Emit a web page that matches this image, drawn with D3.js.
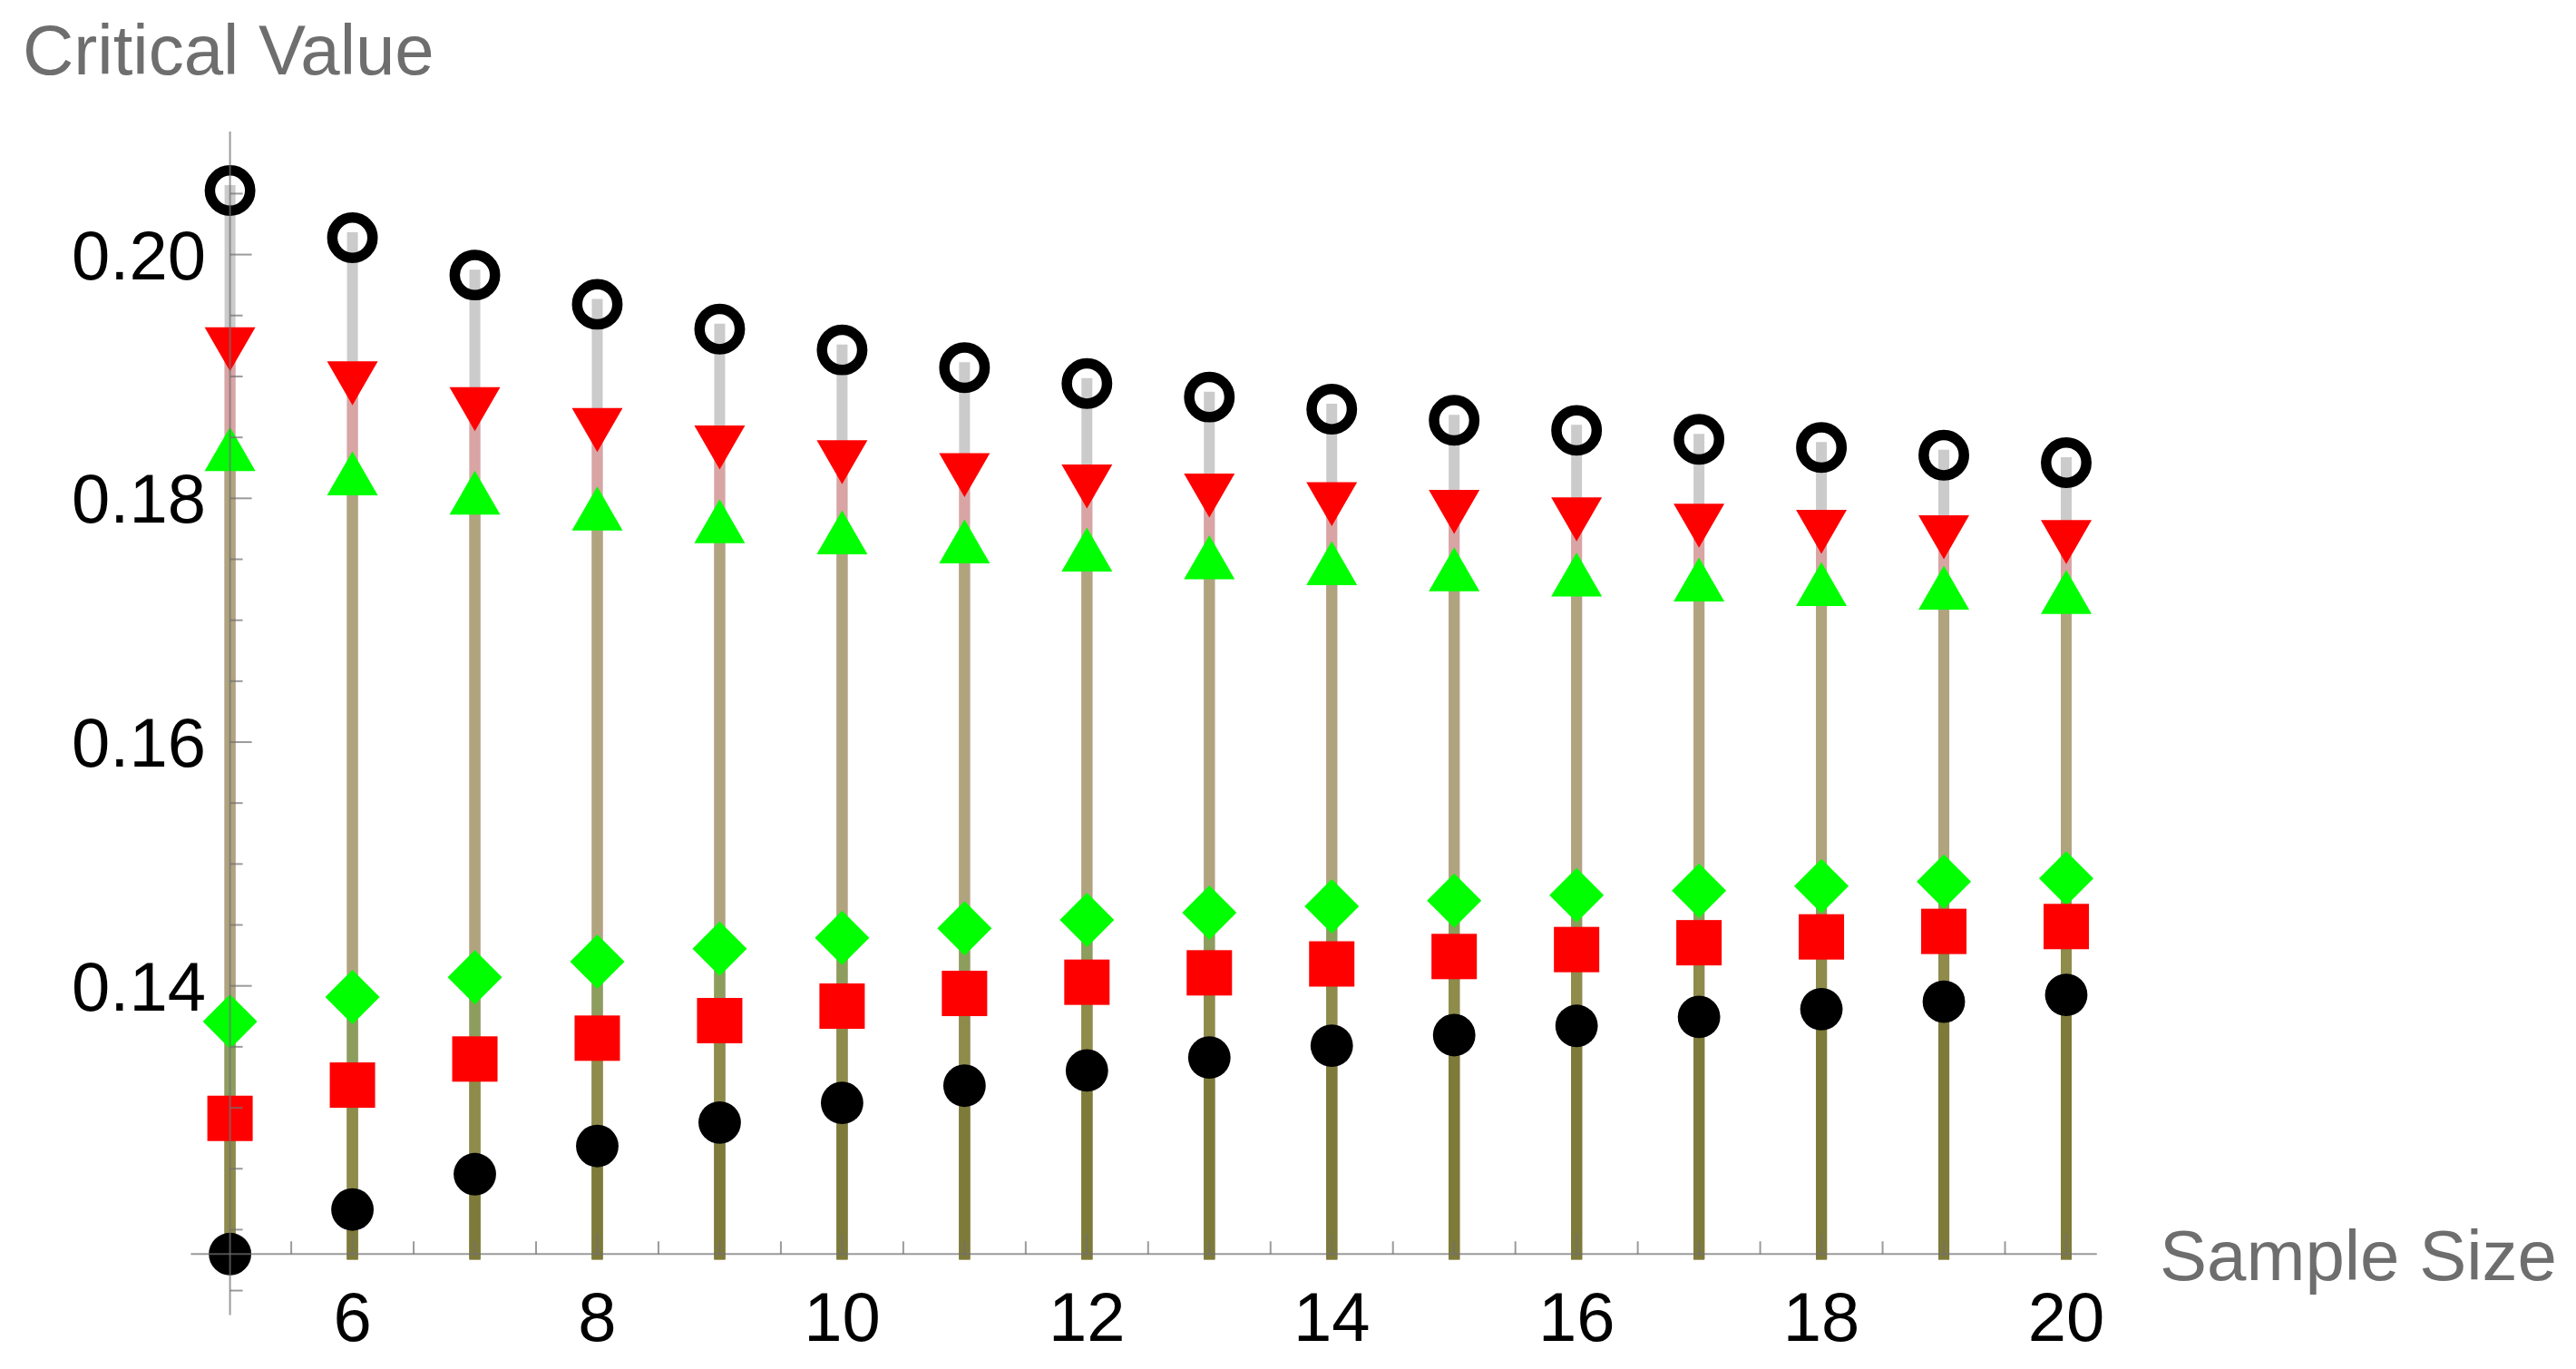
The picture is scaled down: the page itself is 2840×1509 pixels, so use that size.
<!DOCTYPE html>
<html>
<head>
<meta charset="utf-8">
<script src="https://cdn.jsdelivr.net/npm/d3@7"></script>
<style>
  html, body { margin: 0; padding: 0; background: #ffffff; }
  svg { display: block; }
  text { font-family: "Liberation Sans", Arial, sans-serif; }
</style>
</head>
<body>
<svg id="chart" width="2840" height="1509"></svg>
<script>
// ---------- data ----------
const sampleSizes = [5, 6, 7, 8, 9, 10, 11, 12, 13, 14, 15, 16, 17, 18, 19, 20];
const openCircle   = [0.20525, 0.20138, 0.19832, 0.19592, 0.19389, 0.19218, 0.19072, 0.18942, 0.18831, 0.18732, 0.18640, 0.18558, 0.18484, 0.18417, 0.18354, 0.18293];
const redDown      = [0.19223, 0.18944, 0.18732, 0.18560, 0.18417, 0.18296, 0.18190, 0.18098, 0.18023, 0.17952, 0.17889, 0.17827, 0.17775, 0.17725, 0.17681, 0.17641];
const greenUp      = [0.18405, 0.18205, 0.18047, 0.17917, 0.17812, 0.17722, 0.17646, 0.17579, 0.17517, 0.17468, 0.17418, 0.17375, 0.17334, 0.17297, 0.17267, 0.17232];
const greenDiamond = [0.13707, 0.13908, 0.14070, 0.14199, 0.14305, 0.14394, 0.14472, 0.14541, 0.14601, 0.14653, 0.14700, 0.14744, 0.14782, 0.14819, 0.14856, 0.14881];
const redSquare    = [0.12913, 0.13186, 0.13400, 0.13571, 0.13715, 0.13834, 0.13938, 0.14030, 0.14107, 0.14180, 0.14241, 0.14298, 0.14354, 0.14402, 0.14447, 0.14487];
const blackDot     = [0.11800, 0.12165, 0.12455, 0.12686, 0.12879, 0.13040, 0.13181, 0.13306, 0.13412, 0.13509, 0.13596, 0.13672, 0.13745, 0.13809, 0.13871, 0.13926];

const xTickValues = [6, 8, 10, 12, 14, 16, 18, 20];
const yTickValues = [0.14, 0.16, 0.18, 0.20];
const xAxisTitle = "Sample Size";
const yAxisTitle = "Critical Value";

// series: stems drawn from tallest to shortest so the overlap colours match
const series = [
  { name: "openCircle",   values: openCircle,   marker: "ring",     color: "#000000", stem: "#cbcbcb" },
  { name: "redDown",      values: redDown,      marker: "triDown",  color: "#ff0000", stem: "#d9a4a4" },
  { name: "greenUp",      values: greenUp,      marker: "triUp",    color: "#00ff00", stem: "#b0a47f" },
  { name: "greenDiamond", values: greenDiamond, marker: "diamond",  color: "#00ff00", stem: "#8d9d5e" },
  { name: "redSquare",    values: redSquare,    marker: "square",   color: "#ff0000", stem: "#8e8b4b" },
  { name: "blackDot",     values: blackDot,     marker: "dot",      color: "#000000", stem: "#7e7a3a" }
];

// ---------- scales ----------
const originX = 5, originY = 0.118;
const x = d3.scaleLinear().domain([5, 20]).range([253.6, 2278]);
const y = d3.scaleLinear().domain([0.14, 0.20]).range([1086.7, 280.6]);
const xExtent = [4.68, 20.25];
const yExtent = [0.113, 0.2101];

const svg = d3.select("#chart");

// ---------- stems ----------
const gStems = svg.append("g");
series.forEach(s => {
  gStems.selectAll(null)
    .data(sampleSizes.map((n, i) => ({ n, v: s.values[i] })))
    .enter().append("line")
    .attr("x1", d => x(d.n)).attr("x2", d => x(d.n))
    .attr("y1", y(originY)).attr("y2", d => y(d.v))
    .attr("stroke", s.stem)
    .attr("stroke-width", 12)
    .attr("stroke-linecap", "square");
});

// ---------- markers ----------
const gMarks = svg.append("g");
const triW = 56, triH = 48.5, dia = 30, sq = 50;
series.forEach(s => {
  const pts = sampleSizes.map((n, i) => ({ n, v: s.values[i] }));
  const sel = gMarks.selectAll(null).data(pts).enter();
  if (s.marker === "ring") {
    sel.append("circle").attr("cx", d => x(d.n)).attr("cy", d => y(d.v))
      .attr("r", 22.2).attr("fill", "none").attr("stroke", s.color).attr("stroke-width", 11.5);
  } else if (s.marker === "dot") {
    sel.append("circle").attr("cx", d => x(d.n)).attr("cy", d => y(d.v))
      .attr("r", 23.4).attr("fill", s.color);
  } else if (s.marker === "square") {
    sel.append("rect").attr("x", d => x(d.n) - sq / 2).attr("y", d => y(d.v) - sq / 2)
      .attr("width", sq).attr("height", sq).attr("fill", s.color);
  } else if (s.marker === "diamond") {
    sel.append("path").attr("d", d => {
      const cx = x(d.n), cy = y(d.v);
      return `M${cx},${cy - dia}L${cx + dia},${cy}L${cx},${cy + dia}L${cx - dia},${cy}Z`;
    }).attr("fill", s.color);
  } else if (s.marker === "triDown") {
    sel.append("path").attr("d", d => {
      const cx = x(d.n), cy = y(d.v);
      return `M${cx - triW / 2},${cy - triH / 2}L${cx + triW / 2},${cy - triH / 2}L${cx},${cy + triH / 2}Z`;
    }).attr("fill", s.color);
  } else if (s.marker === "triUp") {
    sel.append("path").attr("d", d => {
      const cx = x(d.n), cy = y(d.v);
      return `M${cx - triW / 2},${cy + triH / 2}L${cx + triW / 2},${cy + triH / 2}L${cx},${cy - triH / 2}Z`;
    }).attr("fill", s.color);
  }
});

// ---------- axes (drawn on top, like the reference) ----------
const axisColor = "#707070";
const gAxes = svg.append("g").attr("stroke", axisColor).attr("stroke-opacity", 0.7).attr("stroke-width", 2);

gAxes.append("line")
  .attr("x1", x(xExtent[0])).attr("x2", x(xExtent[1]))
  .attr("y1", y(originY)).attr("y2", y(originY));
gAxes.append("line")
  .attr("x1", x(originX)).attr("x2", x(originX))
  .attr("y1", y(yExtent[0])).attr("y2", y(yExtent[1]));

const xMinor = d3.range(5, 20.01, 0.5).filter(v => !xTickValues.includes(v) && v !== originX);
gAxes.selectAll(null).data(xMinor).enter().append("line")
  .attr("x1", d => x(d)).attr("x2", d => x(d))
  .attr("y1", y(originY)).attr("y2", y(originY) - 14);
gAxes.selectAll(null).data(xTickValues).enter().append("line")
  .attr("x1", d => x(d)).attr("x2", d => x(d))
  .attr("y1", y(originY)).attr("y2", y(originY) - 22);

const yMinor = d3.range(0.115, 0.2076, 0.005).map(v => +v.toFixed(3))
  .filter(v => !yTickValues.some(t => Math.abs(t - v) < 1e-9) && Math.abs(v - originY) > 1e-9);
gAxes.selectAll(null).data(yMinor).enter().append("line")
  .attr("x1", x(originX)).attr("x2", x(originX) + 14)
  .attr("y1", d => y(d)).attr("y2", d => y(d));
gAxes.selectAll(null).data(yTickValues).enter().append("line")
  .attr("x1", x(originX)).attr("x2", x(originX) + 24)
  .attr("y1", d => y(d)).attr("y2", d => y(d));

// tick labels
const gLabels = svg.append("g").attr("fill", "#000").attr("font-size", 76);
gLabels.selectAll(null).data(xTickValues).enter().append("text")
  .attr("x", d => x(d)).attr("y", 1478)
  .attr("text-anchor", "middle")
  .text(d => d3.format("d")(d));
gLabels.selectAll(null).data(yTickValues).enter().append("text")
  .attr("x", 227).attr("y", d => y(d) + 27)
  .attr("text-anchor", "end")
  .text(d => d3.format(".2f")(d));

// axis titles
svg.append("text").attr("x", 25).attr("y", 82)
  .attr("font-size", 78).attr("fill", "#6e6e6e").text(yAxisTitle);
svg.append("text").attr("x", 2381).attr("y", 1411)
  .attr("font-size", 78).attr("fill", "#6e6e6e").text(xAxisTitle);
</script>
</body>
</html>
